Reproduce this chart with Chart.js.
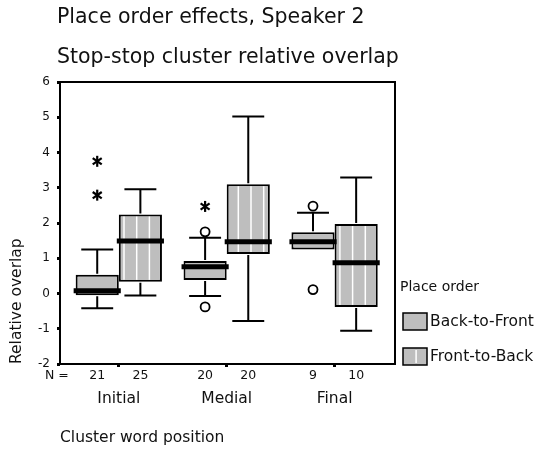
<!DOCTYPE html>
<html lang="en">

<head>
    <meta charset="UTF-8">
    <meta name="viewport" content="width=device-width, initial-scale=1.0">
    <script src="https://cdn.jsdelivr.net/npm/chart.js"></script>
    <title>Place order effects, Speaker 2</title>
    <style>
        html, body { margin: 0; padding: 0; background: #fff; }
    </style>
</head>

<body>
    <canvas id="grafico" width="540" height="450"></canvas>
</body>

</html>

<script>
    // categories (cluster word position) and their place on the x scale
    var categories = ['Initial', 'Medial', 'Final']
    var positions = [1, 2, 3]
    var seriesNames = ['Back-to-Front', 'Front-to-Back']

    // Back-to-Front
    var btfMin = [-0.42, -0.07, 1.25]
    var btfQ1 = [-0.05, 0.38, 1.25]
    var btfMedian = [0.08, 0.76, 1.47]
    var btfQ3 = [0.53, 0.92, 1.74]
    var btfMax = [1.25, 1.58, 2.29]
    var btfOutliers = [[], [1.75, -0.38], [2.48, 0.11]]
    var btfExtremes = [[3.75, 2.79], [2.47], []]
    var btfN = [21, 20, 9]

    // Front-to-Back
    var ftbMin = [-0.06, -0.78, -1.06]
    var ftbQ1 = [0.33, 1.12, -0.38]
    var ftbMedian = [1.49, 1.47, 0.87]
    var ftbQ3 = [2.24, 3.10, 1.97]
    var ftbMax = [2.96, 5.02, 3.29]
    var ftbOutliers = [[], [], []]
    var ftbExtremes = [[], [], []]
    var ftbN = [25, 20, 10]

    var yMin = -2
    var yMax = 6

    var series = [
        { min: btfMin, q1: btfQ1, med: btfMedian, q3: btfQ3, max: btfMax, out: btfOutliers, ext: btfExtremes, n: btfN, striped: false },
        { min: ftbMin, q1: ftbQ1, med: ftbMedian, q3: ftbQ3, max: ftbMax, out: ftbOutliers, ext: ftbExtremes, n: ftbN, striped: true }
    ]

    var FONT = 'DejaVu Sans'
    var INK = '#111'
    var GREY = '#bebebe'

    // white vertical stripes, same period everywhere (like a fill pattern)
    function stripes(ctx, left, right, top, bottom) {
        var period = 12.7
        var phase = 9.7
        var sx = phase + period * Math.ceil((left + 2 - phase) / period)
        ctx.strokeStyle = '#fff';
        ctx.lineWidth = 1.5;
        for (; sx < right - 2; sx += period) {
            ctx.beginPath();
            ctx.moveTo(sx, top + 2);
            ctx.lineTo(sx, bottom - 2);
            ctx.stroke();
        }
    }

    function asterisk(ctx, x, y) {
        var r = 5.5
        ctx.strokeStyle = '#000';
        ctx.lineWidth = 2.2;
        [90, 35, -35].forEach(function (a) {
            var dx = Math.cos(a * Math.PI / 180) * r
            var dy = Math.sin(a * Math.PI / 180) * r
            ctx.beginPath();
            ctx.moveTo(x - dx, y - dy);
            ctx.lineTo(x + dx, y + dy);
            ctx.stroke();
        })
    }

    var boxPlot = {
        id: 'boxPlot',
        afterDatasetsDraw: function (chart) {
            var ctx = chart.ctx
            var y = chart.scales.y
            ctx.save();
            series.forEach(function (s, d) {
                var meta = chart.getDatasetMeta(d)
                meta.data.forEach(function (bar, i) {
                    var p = bar.getProps(['x', 'width'], true)
                    var left = p.x - p.width / 2
                    var right = p.x + p.width / 2
                    var top = y.getPixelForValue(s.q3[i])
                    var bottom = y.getPixelForValue(s.q1[i])
                    var cap = p.width * 0.37

                    if (s.striped) stripes(ctx, left, right, top, bottom);

                    // whiskers
                    ctx.strokeStyle = '#000';
                    ctx.lineWidth = 2;
                    if (s.max[i] > s.q3[i]) {
                        var yh = y.getPixelForValue(s.max[i])
                        ctx.beginPath();
                        ctx.moveTo(p.x, top - 1);
                        ctx.lineTo(p.x, yh);
                        ctx.moveTo(p.x - cap, yh);
                        ctx.lineTo(p.x + cap, yh);
                        ctx.stroke();
                    }
                    if (s.min[i] < s.q1[i]) {
                        var yl = y.getPixelForValue(s.min[i])
                        ctx.beginPath();
                        ctx.moveTo(p.x, bottom + 1);
                        ctx.lineTo(p.x, yl);
                        ctx.moveTo(p.x - cap, yl);
                        ctx.lineTo(p.x + cap, yl);
                        ctx.stroke();
                    }

                    // median
                    var ym = y.getPixelForValue(s.med[i])
                    ctx.lineWidth = 5;
                    ctx.beginPath();
                    ctx.moveTo(left - 2, ym);
                    ctx.lineTo(right + 2, ym);
                    ctx.stroke();

                    // outliers
                    s.out[i].forEach(function (v) {
                        ctx.beginPath();
                        ctx.arc(p.x, y.getPixelForValue(v), 4.5, 0, Math.PI * 2);
                        ctx.fillStyle = '#fff';
                        ctx.fill();
                        ctx.lineWidth = 1.8;
                        ctx.strokeStyle = '#000';
                        ctx.stroke();
                    })
                    s.ext[i].forEach(function (v) {
                        asterisk(ctx, p.x, y.getPixelForValue(v));
                    })

                    // N per box
                    ctx.fillStyle = INK;
                    ctx.font = '12.5px "' + FONT + '"';
                    ctx.textAlign = 'center';
                    ctx.textBaseline = 'middle';
                    ctx.fillText(String(s.n[i]), p.x, chart.chartArea.bottom + 12);
                })
            })
            ctx.restore();
        },
        afterDraw: function (chart) {
            var ctx = chart.ctx
            var a = chart.chartArea
            ctx.save();

            // frame
            ctx.strokeStyle = '#000';
            ctx.lineWidth = 2;
            ctx.strokeRect(a.left, a.top, a.right - a.left, a.bottom - a.top);

            ctx.fillStyle = INK;
            ctx.textBaseline = 'alphabetic';
            ctx.textAlign = 'left';

            // titles
            ctx.font = '20.5px "' + FONT + '"';
            ctx.fillText('Place order effects, Speaker 2', 57, 23);
            ctx.fillText('Stop-stop cluster relative overlap', 57, 63);

            // N =
            ctx.font = '12.5px "' + FONT + '"';
            ctx.textBaseline = 'middle';
            ctx.fillText('N =', 45, a.bottom + 12);

            // legend
            ctx.font = '14px "' + FONT + '"';
            ctx.fillText('Place order', 400, 287);
            ctx.font = '15.5px "' + FONT + '"';
            seriesNames.forEach(function (name, k) {
                var by = 313 + k * 35
                ctx.fillStyle = GREY;
                ctx.fillRect(403, by, 24, 17);
                if (series[k].striped) stripes(ctx, 403, 427, by, by + 17);
                ctx.strokeStyle = '#000';
                ctx.lineWidth = 1.5;
                ctx.strokeRect(403, by, 24, 17);
                ctx.fillStyle = INK;
                ctx.fillText(name, 430, by + 9);
            })
            ctx.restore();
        }
    }

    function boxData(q1, q3) {
        return positions.map(function (p, i) {
            return { x: p, y: [q1[i], q3[i]] }
        })
    }

    var config = {
        type: 'bar',
        data: {
            datasets: [{
                label: seriesNames[0],
                data: boxData(btfQ1, btfQ3),
                backgroundColor: GREY,
                borderColor: '#000',
                borderWidth: 2,
                borderSkipped: false,
                barPercentage: 1,
                categoryPercentage: 0.8
            }, {
                label: seriesNames[1],
                data: boxData(ftbQ1, ftbQ3),
                backgroundColor: GREY,
                borderColor: '#000',
                borderWidth: 2,
                borderSkipped: false,
                barPercentage: 1,
                categoryPercentage: 0.8
            }]
        },
        options: {
            responsive: false,
            animation: false,
            layout: { padding: { left: 0, top: 82, right: 145, bottom: 0 } },
            plugins: {
                legend: { display: false },
                title: { display: false },
                tooltip: { enabled: false }
            },
            scales: {
                x: {
                    type: 'linear',
                    offset: false,
                    min: 0.455,
                    max: 3.56,
                    afterBuildTicks: function (scale) {
                        scale.ticks = positions.map(function (v) { return { value: v } })
                    },
                    afterFit: function (scale) { scale.height = 86 },
                    grid: { offset: false, drawOnChartArea: false, drawTicks: true, tickLength: 3, tickWidth: 3, tickColor: '#000' },
                    border: { display: false },
                    ticks: {
                        autoSkip: false,
                        maxRotation: 0,
                        padding: 23,
                        color: INK,
                        font: { family: FONT, size: 15.5 },
                        callback: function (v) { return categories[positions.indexOf(v)] }
                    },
                    title: {
                        display: true,
                        text: 'Cluster word position',
                        align: 'start',
                        color: INK,
                        font: { family: FONT, size: 15.5 },
                        padding: { top: 0, bottom: 3 }
                    }
                },
                y: {
                    min: yMin,
                    max: yMax,
                    afterFit: function (scale) { scale.width = 60 },
                    grid: { drawOnChartArea: false, drawTicks: true, tickLength: 3, tickWidth: 3, tickColor: '#000' },
                    border: { display: false },
                    ticks: {
                        stepSize: 1,
                        padding: 7,
                        color: INK,
                        font: { family: FONT, size: 12 }
                    },
                    title: {
                        display: true,
                        text: 'Relative overlap',
                        align: 'start',
                        color: INK,
                        font: { family: FONT, size: 15.5 },
                        padding: { top: 8, bottom: 0 }
                    }
                }
            }
        },
        plugins: [boxPlot]
    }

    var myChart = new Chart(document.getElementById('grafico'), config)
</script>
